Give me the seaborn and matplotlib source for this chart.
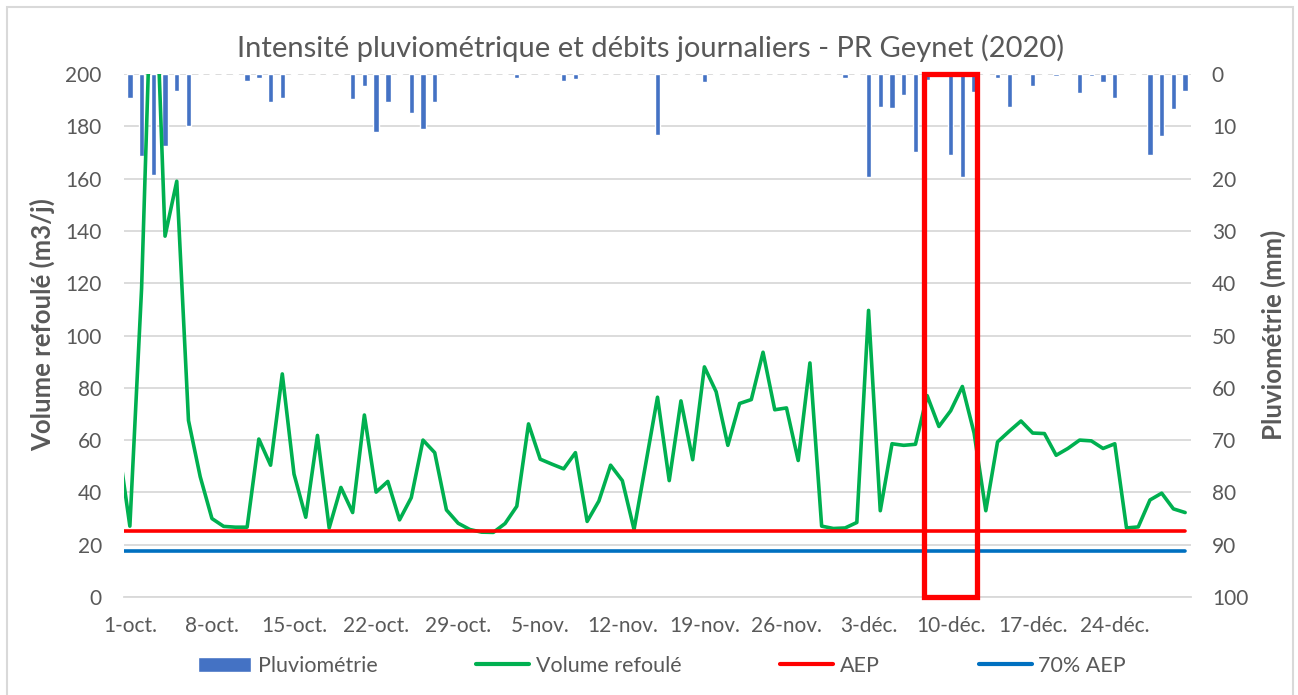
import numpy as np
import pandas as pd
import matplotlib.pyplot as plt
from matplotlib.patches import Rectangle, Patch
from matplotlib.lines import Line2D
import seaborn as sns

# jours : 30-sept (debut coupe par l'axe) puis 1-oct -> 30-dec
jours = pd.date_range("2020-09-30", "2020-12-30", freq="D")

volume = [59,
          27.1, 118, 263, 138, 159, 67.5, 46, 30, 27, 26.7,
          26.7, 60.4, 50.4, 85.3, 47, 30.5, 61.8, 26.4, 41.9, 32.3,
          69.6, 40.1, 44.2, 29.5, 38, 60, 55.2, 33.3, 28.2, 25.8,
          24.8, 24.7, 28.1, 34.7, 66.2, 52.7, 50.8, 49, 55.2, 28.9,
          36.7, 50.4, 44.5, 25.8, 51, 76.4, 44.5, 75, 52.5, 88,
          78.5, 58, 74, 75.5, 93.6, 71.6, 72.3, 52.2, 89.5, 27.1,
          26.2, 26.4, 28.5, 109.6, 33, 58.6, 58, 58.4, 77, 65.2,
          71.2, 80.5, 62.7, 33, 59.3, 63.4, 67.3, 62.7, 62.5, 54.2,
          56.8, 60, 59.7, 56.8, 58.6, 26.4, 26.8, 37.1, 39.7, 33.7,
          32.3]

pluie = [4.5, 15.6, 19.4, 13.7, 3.3, 9.9, 0, 0, 0, 0.2,
         1.4, 0.7, 5.3, 4.5, 0.2, 0, 0, 0.2, 0, 4.8,
         2.3, 11, 5.3, 0.2, 7.4, 10.6, 5.3, 0.2, 0.2, 0,
         0, 0, 0, 0.7, 0, 0.2, 0, 1.4, 0.9, 0.2,
         0.2, 0, 0, 0, 0.2, 11.7, 0.2, 0.2, 0.2, 1.6,
         0.2, 0.2, 0, 0, 0.2, 0, 0.2, 0, 0.2, 0,
         0.2, 0.7, 0, 19.7, 6.4, 6.5, 4, 14.9, 1.2, 0,
         15.5, 19.6, 3.4, 0.2, 0.7, 6.4, 0.2, 2.3, 0.2, 0.4,
         0.2, 3.6, 0.4, 1.6, 4.5, 0.2, 0.2, 15.5, 11.8, 6.6,
         3.2]

aep = 25.3
aep_70 = 17.7

tick_labels = ["1-oct.", "8-oct.", "15-oct.", "22-oct.", "29-oct.", "5-nov.", "12-nov.",
               "19-nov.", "26-nov.", "3-déc.", "10-déc.", "17-déc.", "24-déc."]

gris = "#595959"
grille = "#D9D9D9"

x = (jours - pd.Timestamp("2020-10-01")).days.values + 0.5
df = pd.DataFrame({"x": x, "volume": volume,
                   "aep": [aep] * len(x), "aep_70": [aep_70] * len(x)})
df_pluie = pd.DataFrame({"x": x[1:], "pluie": pluie})

sns.set_style("white")
plt.rcParams["font.family"] = ["Lato", "DejaVu Sans"]

fig = plt.figure(figsize=(12.98, 6.95), dpi=100)
ax1 = fig.add_axes([124 / 1298, 1 - 597 / 695, (1191 - 124) / 1298, (597 - 74) / 695])
ax2 = ax1.twinx()
ax1.set_zorder(2)
ax2.set_zorder(1)
ax1.patch.set_visible(False)

# pluie sur l'axe secondaire (inverse)
sns.barplot(data=df_pluie, x="x", y="pluie", native_scale=True, width=0.46,
            color="#4472C4", saturation=1, errorbar=None, ax=ax2)
ax2.set_ylim(100, 0)
ax2.set_yticks(np.arange(0, 101, 10))
ax2.yaxis.grid(True, color=grille, lw=1.3)
ax2.set_axisbelow(True)

# volumes
sns.lineplot(data=df, x="x", y="volume", color="#00B050", lw=2.6, estimator=None, ax=ax1)
sns.lineplot(data=df, x="x", y="aep", color="#FF0000", lw=2.6, estimator=None, ax=ax1)
sns.lineplot(data=df, x="x", y="aep_70", color="#0070C0", lw=2.6, estimator=None, ax=ax1)
ax1.set_ylim(0, 200)
ax1.set_yticks(np.arange(0, 201, 20))
ax1.set_xlim(0, 91)
ax2.set_xlim(0, 91)

# axe des dates
ax1.set_xticks(np.arange(0, 92, 7))
ax1.set_xticklabels([])
ax1.set_xticks(np.arange(0, 85, 7) + 0.5, minor=True)
ax1.set_xticklabels(tick_labels, minor=True)
ax1.tick_params(axis="x", which="major", length=6, width=1.3, color=grille, direction="out")
ax1.tick_params(axis="x", which="minor", length=0, pad=14, labelsize=15, labelcolor=gris)
ax1.tick_params(axis="y", length=0, pad=16, labelsize=15, labelcolor=gris)
ax2.tick_params(axis="y", length=0, pad=15, labelsize=15, labelcolor=gris)
ax2.tick_params(axis="x", bottom=False, labelbottom=False)
ax1.set_xlabel("")
ax1.set_ylabel("")
ax2.set_xlabel("")
ax2.set_ylabel("")

for a in (ax1, ax2):
    for s in a.spines.values():
        s.set_visible(False)
ax1.spines["bottom"].set_visible(True)
ax1.spines["bottom"].set_color(grille)
ax1.spines["bottom"].set_linewidth(1.3)

# cadre rouge (10-dec)
ax1.add_patch(Rectangle((68.25, 0), 4.5, 200, fill=False, edgecolor="#FF0000",
                        lw=3.8, clip_on=False, zorder=10))

fig.text(651 / 1298, 1 - 48 / 695,
         "Intensité pluviométrique et débits journaliers - PR Geynet (2020)",
         ha="center", va="center", fontsize=21, color=gris)
fig.text(42 / 1298, 1 - 325 / 695, "Volume refoulé (m3/j)", rotation=90,
         ha="center", va="center", fontsize=18.5, fontweight="bold", color=gris)
fig.text(1273 / 1298, 1 - 335 / 695, "Pluviométrie (mm)", rotation=90,
         ha="center", va="center", fontsize=18.5, fontweight="bold", color=gris)

handles = [Patch(facecolor="#4472C4"),
           Line2D([], [], color="#00B050", lw=3),
           Line2D([], [], color="#FF0000", lw=3),
           Line2D([], [], color="#0070C0", lw=3)]
labels = ["Pluviométrie", "Volume refoulé", "AEP", "70% AEP"]
leg = fig.legend(handles, labels, loc="center", bbox_to_anchor=(662 / 1298, 1 - 666 / 695),
                 ncol=4, frameon=False, fontsize=15.5, handlelength=2.46,
                 columnspacing=4.6, handletextpad=0.3)
for t in leg.get_texts():
    t.set_color(gris)

fig.add_artist(Rectangle((7 / 1298, -0.05), (1293 - 7) / 1298, 1 - 7 / 695 + 0.05,
                         transform=fig.transFigure, fill=False, edgecolor=grille, lw=1.5))

fig.savefig("out.png", dpi=100)
